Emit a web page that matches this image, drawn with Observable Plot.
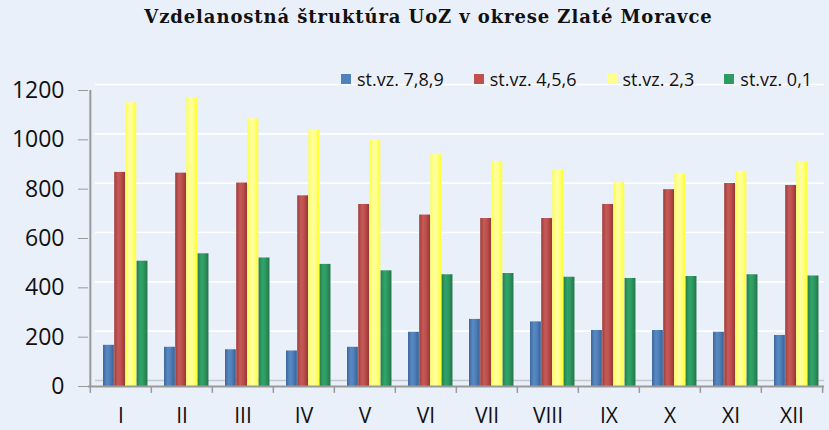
<!DOCTYPE html>
<html>
<head>
<meta charset="utf-8">
<script src="https://cdn.jsdelivr.net/npm/d3@7"></script>
<script src="https://cdn.jsdelivr.net/npm/@observablehq/plot@0.6"></script>
<style>
  html, body { margin: 0; padding: 0; background: #EAF0FA; }
  #wrap { position: relative; width: 829px; height: 430px; overflow: hidden; background: #EAF0FA; }
  #title { height: 40px; line-height: 34px; text-align: center; font-family: "DejaVu Serif", serif; font-weight: bold; font-size: 18px; letter-spacing: 0.9px; color: #111; padding-left: 28px; box-sizing: border-box; }
  #legend { position: absolute; top: 67px; left: 341px; display: flex; gap: 30px; font-family: "Open Sans", sans-serif; font-size: 18px; color: #111; }
  #legend .item { display: flex; align-items: center; gap: 6px; white-space: nowrap; }
  #legend .sw { width: 10px; height: 10px; display: inline-block; }
</style>
</head>
<body>
<div id="wrap">
  <div id="title">Vzdelanostná štruktúra UoZ v okrese Zlaté Moravce</div>
  <div id="chart"></div>
  <div id="legend"></div>
</div>
<script>
const months = ["I","II","III","IV","V","VI","VII","VIII","IX","X","XI","XII"];
const seriesNames = ["st.vz. 7,8,9","st.vz. 4,5,6","st.vz. 2,3","st.vz. 0,1"];
const seriesColors = ["#4F81BD","#C0504D","#FFFF8F","#2E9B62"];
const v789 = [167,159,149,144,159,220,272,262,227,227,220,207];
const v456 = [868,865,825,773,738,695,681,681,738,798,823,815];
const v23  = [1150,1170,1085,1040,998,940,912,878,826,862,872,910];
const v01  = [508,538,521,495,469,453,458,443,438,446,453,448];
const yTicks = [0,200,400,600,800,1000,1200];

const seriesValues = [v789, v456, v23, v01];
const rows = seriesValues.map((vals, i) => months.map((m, j) => ({month: m, series: seriesNames[i], value: vals[j]})));

const W = 829, H = 390, mL = 88, mR = 5, mT = 50, mB = 44;
const bw = (W - mL - mR) / months.length;
const barOff = 13, barW = 11.2;

function shade(c, k) { const h = d3.hsl(c); return k > 0 ? h.brighter(k).formatHex() : h.darker(-k).formatHex(); }

const defs = () => {
  const d = d3.create("svg:defs");
  seriesColors.forEach((c, i) => {
    const g = d.append("linearGradient").attr("id", "grad" + i).attr("x1", 0).attr("x2", 1).attr("y1", 0).attr("y2", 0);
    g.append("stop").attr("offset", "0%").attr("stop-color", shade(c, -0.6));
    g.append("stop").attr("offset", "35%").attr("stop-color", shade(c, 0.15));
    g.append("stop").attr("offset", "60%").attr("stop-color", c);
    g.append("stop").attr("offset", "100%").attr("stop-color", shade(c, -0.8));
  });
  return d.node();
};

const barMarks = rows.map((data, i) => {
  const insetLeft = barOff + barW * i;
  const insetRight = bw - insetLeft - barW;
  return Plot.barY(data, {x: "month", y: "value", fill: `url(#grad${i})`, insetLeft, insetRight});
});

const chart = Plot.plot({
  width: W, height: H,
  marginLeft: mL, marginRight: mR, marginTop: mT, marginBottom: mB,
  style: {background: "transparent", fontFamily: "Open Sans, sans-serif", color: "#111", overflow: "visible"},
  x: {domain: months, padding: 0, axis: null, label: null},
  y: {domain: [0, 1200], axis: null, label: null},
  marks: [
    defs,
    Plot.ruleY(yTicks.filter(t => t > 0), {stroke: "white", strokeWidth: 1.6, dy: -6, insetLeft: 7}),
    Plot.ruleY([0], {stroke: "#c4c8cc", strokeWidth: 1.5, dy: -6, insetLeft: 7}),
    ...barMarks,
    Plot.ruleY([0], {stroke: "#999", strokeWidth: 2}),
    Plot.ruleX([months[0]], {dx: -bw / 2, y1: 0, y2: 1200, stroke: "#999", strokeWidth: 2}),
    Plot.ruleX(months, {dx: -bw / 2, y1: 0, y2: -28, stroke: "#999", strokeWidth: 1.5}),
    Plot.ruleX([months[months.length - 1]], {dx: bw / 2, y1: 0, y2: -28, stroke: "#999", strokeWidth: 1.5}),
    Plot.axisY({ticks: yTicks, tickSize: 10, tickPadding: 14, fontSize: 23, stroke: "#999", label: null, tickFormat: d => String(d)}),
    Plot.axisX({tickSize: 0, tickPadding: 22, fontSize: 21, label: null})
  ]
});
document.getElementById("chart").appendChild(chart);

const legend = document.getElementById("legend");
seriesNames.forEach((n, i) => {
  const it = document.createElement("div");
  it.className = "item";
  const sw = document.createElement("span");
  sw.className = "sw";
  sw.style.background = seriesColors[i];
  const t = document.createElement("span");
  t.textContent = n;
  it.appendChild(sw); it.appendChild(t);
  legend.appendChild(it);
});
</script>
</body>
</html>
